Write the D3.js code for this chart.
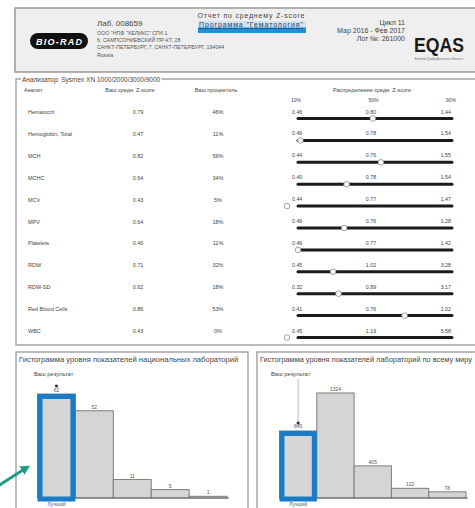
<!DOCTYPE html>
<html><head><meta charset="utf-8">
<script src="https://cdn.jsdelivr.net/npm/d3@7/dist/d3.min.js"></script>
<style>
body{margin:0;background:#fff;overflow:hidden}
svg{display:block;font-family:"Liberation Sans",Arial,sans-serif}
</style>
</head><body>
<svg id="c" width="475" height="508"></svg>
<script>
// ---------- data ----------
const analytes = ["Hematocrit","Hemoglobin, Total","MCH","MCHC","MCV","MPV","Platelets","RDW","RDW-SD","Red Blood Cells","WBC"];
const zScores = [0.79,0.47,0.82,0.64,0.43,0.64,0.46,0.71,0.62,0.86,0.43];
const percentiles = [46,11,56,34,5,18,11,32,18,53,0];
const p10 = [0.46,0.46,0.44,0.40,0.44,0.46,0.46,0.45,0.32,0.41,0.45];
const p50 = [0.80,0.78,0.76,0.78,0.77,0.76,0.77,1.02,0.89,0.76,1.19];
const p90 = [1.44,1.54,1.55,1.54,1.47,1.28,1.42,3.28,3.17,1.02,5.58];
const pctLabels = ["10%","50%","90%"];
const natBins = ["1","2","3","4","5"];
const natCounts = [62,52,11,5,1];
const worldBins = ["1","2","3","4","5"];
const worldCounts = [845,1324,405,122,78];

const svg = d3.select("#c");
const txt = "#444";

// ---------- header ----------
svg.append("rect").attr("x",15).attr("y",8).attr("width",470).attr("height",64)
  .attr("fill","#efefef").attr("stroke","#9a9a9a").attr("stroke-width",1.5);
// BIO-RAD logo
svg.append("rect").attr("x",30).attr("y",33).attr("width",58).attr("height",16).attr("rx",8)
  .attr("fill","#111");
svg.append("text").attr("x",59).attr("y",44.5).attr("text-anchor","middle")
  .attr("fill","#fff").attr("font-size",9).attr("font-weight","bold").attr("font-style","italic")
  .attr("textLength",46).text("BIO-RAD");
svg.append("text").attr("x",97).attr("y",26).attr("font-size",8).attr("fill",txt).text("Лаб. 008659");
const addr = ["ООО \"НПФ \"ХЕЛИКС\" СПб 1","6, САМПСОНИЕВСКИЙ ПР-КТ, 28","САНКТ-ПЕТЕРБУРГ, Г. САНКТ-ПЕТЕРБУРГ, 194044","Russia"];
const addrY = [35,41.5,48.5,57];
addr.forEach((a,i)=>svg.append("text").attr("x",97).attr("y",addrY[i]).attr("font-size",5.3).attr("fill","#555").text(a));
svg.append("text").attr("x",251).attr("y",18).attr("text-anchor","middle").attr("font-size",7).attr("fill",txt)
  .attr("textLength",107).text("Отчет по среднему Z-score");
svg.append("rect").attr("x",198).attr("y",21).attr("width",108).attr("height",7).attr("fill","#cfe3f3");
svg.append("rect").attr("x",198).attr("y",27.5).attr("width",108).attr("height",5.5).attr("fill","#1f8fdc");
svg.append("text").attr("x",251).attr("y",27).attr("text-anchor","middle").attr("font-size",7).attr("fill","#1d3c66")
  .attr("text-decoration","underline").attr("textLength",104).text("Программа \"Гематология\"");
const rInfo = ["Цикл 11","Мар 2016 - Фев 2017","Лот №: 261000"];
[25,33,41].forEach((y,i)=>svg.append("text").attr("x",405).attr("y",y).attr("text-anchor","end")
  .attr("font-size",7).attr("fill",txt).text(rInfo[i]));
svg.append("text").attr("x",414).attr("y",52).attr("font-size",20).attr("font-weight","bold")
  .attr("fill","#1a1a1a").attr("textLength",50).attr("lengthAdjust","spacingAndGlyphs").text("EQAS");
svg.append("text").attr("x",439).attr("y",60).attr("text-anchor","middle").attr("font-size",3)
  .attr("fill","#666").text("External Quality Assurance Services");

// ---------- analyzer section ----------
svg.append("rect").attr("x",16).attr("y",79).attr("width",470).attr("height",266)
  .attr("fill","none").attr("stroke","#a5a5a5").attr("stroke-width",1.5);
const legend = svg.append("text").attr("x",22).attr("y",81.5).attr("font-size",6.5).attr("fill",txt)
  .text("Анализатор: Sysmex XN 1000/2000/3000/9000");
const bb = legend.node().getBBox();
svg.insert("rect","text:last-child").attr("x",bb.x-1).attr("y",bb.y).attr("width",bb.width+2).attr("height",bb.height).attr("fill","#fff");
legend.raise();

svg.append("text").attr("x",24).attr("y",92).attr("font-size",5.5).attr("fill",txt).text("Аналит");
svg.append("text").attr("x",130).attr("y",92).attr("text-anchor","middle").attr("font-size",5.5).attr("fill",txt).text("Ваш средн. Z-score");
svg.append("text").attr("x",216).attr("y",92).attr("text-anchor","middle").attr("font-size",5.5).attr("fill",txt).text("Ваш процентиль");
svg.append("text").attr("x",372).attr("y",92).attr("text-anchor","middle").attr("font-size",5.5).attr("fill",txt).text("Распределение средн. Z-score");

const pctX = d3.scalePoint().domain(pctLabels).range([296,451]);
svg.selectAll(".pl").data(pctLabels).join("text").attr("x",d=>pctX(d)).attr("y",102)
  .attr("text-anchor","middle").attr("font-size",5).attr("fill",txt).text(d=>d);

const rowY = d3.scalePoint().domain(analytes).range([112,331]);
const rows = svg.selectAll(".row").data(analytes).join("g")
  .attr("transform",d=>`translate(0,${rowY(d)})`);
rows.append("text").attr("x",28).attr("y",2).attr("font-size",5.5).attr("fill",txt).text(d=>d);
rows.append("text").attr("x",138).attr("y",2).attr("text-anchor","middle").attr("font-size",5.5).attr("fill",txt)
  .text((d,i)=>zScores[i].toFixed(2));
rows.append("text").attr("x",218).attr("y",2).attr("text-anchor","middle").attr("font-size",5.5).attr("fill",txt)
  .text((d,i)=>percentiles[i]+"%");
rows.append("text").attr("x",292).attr("y",1.5).attr("font-size",5.3).attr("fill",txt).text((d,i)=>p10[i].toFixed(2));
rows.append("text").attr("x",371).attr("y",1.5).attr("text-anchor","middle").attr("font-size",5.3).attr("fill",txt).text((d,i)=>p50[i].toFixed(2));
rows.append("text").attr("x",451).attr("y",1.5).attr("text-anchor","end").attr("font-size",5.3).attr("fill",txt).text((d,i)=>p90[i].toFixed(2));
rows.each(function(d,i){
  const g = d3.select(this);
  const sx = d3.scaleLinear().domain([p10[i],p50[i],p90[i]]).range([298,375,452]);
  g.append("line").attr("x1",sx(p10[i])).attr("x2",sx(p90[i])).attr("y1",6.5).attr("y2",6.5)
    .attr("stroke","#1b1b1b").attr("stroke-width",3).attr("stroke-linecap","round");
  const z = zScores[i];
  const cx = z < p10[i] ? sx(p10[i]) - 11 : sx(z);
  g.append("circle").attr("cx",cx).attr("cy",6.5).attr("r",2.8)
    .attr("fill","#fff").attr("stroke","#8a8a8a").attr("stroke-width",0.8);
});

// ---------- histograms ----------
function histogram(opts){
  const g = svg.append("g");
  const clipId = "clip"+opts.id;
  svg.append("clipPath").attr("id",clipId).append("rect")
    .attr("x",opts.bx).attr("y",opts.by).attr("width",opts.bw-1).attr("height",170);
  g.append("rect").attr("x",opts.bx).attr("y",opts.by).attr("width",opts.bw).attr("height",170)
    .attr("fill","none").attr("stroke","#a5a5a5").attr("stroke-width",1.5);
  const t = g.append("text").attr("x",opts.bx+3).attr("y",362).attr("font-size",opts.tfs).attr("fill",txt)
    .attr("clip-path",`url(#${clipId})`).text(opts.title);
  if (opts.tlen) t.attr("textLength",opts.tlen).attr("lengthAdjust","spacingAndGlyphs");
  const x = d3.scaleBand().domain(opts.bins).range(opts.xr).padding(0);
  const y = d3.scaleLinear().domain([0,d3.max(opts.counts)]).range([498,opts.top]);
  g.selectAll(".bar").data(opts.counts).join("rect")
    .attr("x",(d,i)=>x(opts.bins[i])).attr("width",x.bandwidth())
    .attr("y",d=>y(d)).attr("height",d=>498-y(d))
    .attr("fill","#d5d5d5").attr("stroke","#7d7d7d").attr("stroke-width",1);
  g.append("line").attr("x1",opts.xr[0]).attr("x2",opts.xr[1]+2).attr("y1",498).attr("y2",498)
    .attr("stroke","#6a6a6a").attr("stroke-width",1);
  // labels
  g.selectAll(".vl").data(opts.counts).join("text")
    .attr("x",(d,i)=>x(opts.bins[i])+x.bandwidth()/2)
    .attr("y",(d,i)=> i===opts.mine ? y(d)-2.5 : y(d)-2)
    .attr("text-anchor","middle").attr("font-size",5).attr("fill","#555").text(d=>d);
  // highlighted bar
  const mx = x(opts.bins[opts.mine]);
  const my = y(opts.counts[opts.mine]);
  g.append("rect").attr("x",mx+2.5).attr("y",my+2.5).attr("width",x.bandwidth()-5).attr("height",498-my-1.5)
    .attr("fill","none").attr("stroke","#1a7cc6").attr("stroke-width",5);
  const cx = mx + x.bandwidth()/2;
  g.append("text").attr("x",opts.rx).attr("y",376).attr("font-size",5.8).attr("fill",txt).text("Ваш результат");
  if (opts.stem) {
    g.append("line").attr("x1",cx).attr("x2",cx).attr("y1",379).attr("y2",my-9)
      .attr("stroke","#888").attr("stroke-width",0.6);
  }
  g.append("circle").attr("cx",cx).attr("cy",my-8).attr("r",1.6).attr("fill","#333");
  g.append("text").attr("x",cx).attr("y",506).attr("text-anchor","middle").attr("font-size",5).attr("fill","#555").text("Лучший");
}
histogram({id:"n",bx:16,by:352,bw:232,title:"Гистограмма уровня показателей национальных лабораторий",tfs:7.6,
  bins:natBins,counts:natCounts,xr:[37.5,227],top:394,mine:0,rx:34,stem:false});
histogram({id:"w",bx:257,by:352,bw:230,title:"Гистограмма уровня показателей лабораторий по всему миру",tfs:7.2,tlen:212,
  bins:worldBins,counts:worldCounts,xr:[279.5,466],top:393,mine:0,rx:271,stem:true});

// ---------- arrow ----------
svg.append("defs").append("marker").attr("id","ah").attr("viewBox","0 0 10 10").attr("refX",5).attr("refY",5)
  .attr("markerWidth",3.2).attr("markerHeight",3.2).attr("orient","auto")
  .append("path").attr("d","M0,0L10,5L0,10z").attr("fill","#1f9c86");
svg.append("line").attr("x1",-2).attr("y1",486).attr("x2",26).attr("y2",468)
  .attr("stroke","#1f9c86").attr("stroke-width",3).attr("marker-end","url(#ah)");
</script>
</body></html>
